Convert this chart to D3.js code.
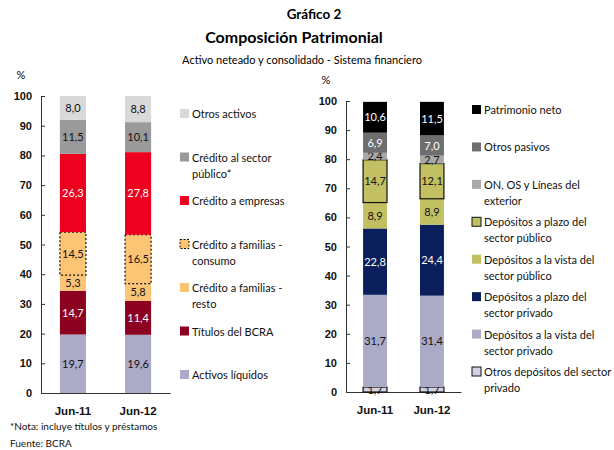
<html>
<head>
<meta charset="utf-8">
<style>
    body {
        margin: 0;
        background: #fff;
        font-family: 'Lato', 'Open Sans', sans-serif;
    }
    .tick text {
        font-size: 11px;
        font-weight: bold;
        fill: #111;
    }
    .axis .domain, .axis .tick line {
        stroke: #333;
    }
    .title {
        font-weight: bold;
        text-anchor: middle;
    }
    .subtitle {
        font-size: 11px;
        text-anchor: middle;
    }
    .leg {
        font-size: 11px;
        fill: #111;
    }
    .val {
        font-size: 11px;
        text-anchor: middle;
    }
    .note {
        font-size: 10px;
        fill: #111;
    }
</style>
<body>
<svg width="614" height="450"></svg>

<script src="https://d3js.org/d3.v7.min.js"></script>
<script>

    let categories = ["Jun-11", "Jun-12"]
    let yTicks = [0, 10, 20, 30, 40, 50, 60, 70, 80, 90, 100]

    // activo (bottom to top)
    let assetKeys = [
        "Activos líquidos",
        "Títulos del BCRA",
        "Crédito a familias - resto",
        "Crédito a familias - consumo",
        "Crédito a empresas",
        "Crédito al sector público*",
        "Otros activos"
    ]
    let activosLiquidos = [19.7, 19.6]
    let titulosBCRA = [14.7, 11.4]
    let familiasResto = [5.3, 5.8]
    let familiasConsumo = [14.5, 16.5]
    let creditoEmpresas = [26.3, 27.8]
    let sectorPublico = [11.5, 10.1]
    let otrosActivos = [8.0, 8.8]

    // pasivo + patrimonio (bottom to top)
    let liabKeys = [
        "Otros depósitos del sector privado",
        "Depósitos a la vista del sector privado",
        "Depósitos a plazo del sector privado",
        "Depósitos a la vista del sector público",
        "Depósitos a plazo del sector público",
        "ON, OS y Líneas del exterior",
        "Otros pasivos",
        "Patrimonio neto"
    ]
    let otrosDepPrivado = [1.7, 1.7]
    let vistaPrivado = [31.7, 31.4]
    let plazoPrivado = [22.8, 24.4]
    let vistaPublico = [8.9, 8.9]
    let plazoPublico = [14.7, 12.1]
    let onOsLineas = [2.4, 2.7]
    let otrosPasivos = [6.9, 7.0]
    let patrimonioNeto = [10.6, 11.5]

    let assetSeries = [activosLiquidos, titulosBCRA, familiasResto, familiasConsumo, creditoEmpresas, sectorPublico, otrosActivos]
    let liabSeries = [otrosDepPrivado, vistaPrivado, plazoPrivado, vistaPublico, plazoPublico, onOsLineas, otrosPasivos, patrimonioNeto]

    // styles per series
    let assetStyle = [
        {fill: "#ababc8", text: "#111", stroke: null},
        {fill: "#8c0020", text: "#fff", stroke: null},
        {fill: "#fcc475", text: "#111", stroke: null},
        {fill: "#fcc475", text: "#111", stroke: "dot"},
        {fill: "#ee0020", text: "#fff", stroke: null},
        {fill: "#9a9a9a", text: "#111", stroke: null},
        {fill: "#d9d9d9", text: "#111", stroke: null}
    ]
    let liabStyle = [
        {fill: "#d2d2e2", text: "#111", stroke: "solid"},
        {fill: "#ababc8", text: "#111", stroke: null},
        {fill: "#0b1f5c", text: "#fff", stroke: null},
        {fill: "#c2c062", text: "#111", stroke: null},
        {fill: "#c2c062", text: "#111", stroke: "solid"},
        {fill: "#a8a8a8", text: "#111", stroke: null},
        {fill: "#6e6e6e", text: "#fff", stroke: null},
        {fill: "#000000", text: "#fff", stroke: null}
    ]

    let svg = d3.select("svg")

    svg.append("text").attr("class", "title").attr("x", 314).attr("y", 19).style("font-size", "13.5px").text("Gráfico 2")
    svg.append("text").attr("class", "title").attr("x", 294).attr("y", 43).style("font-size", "16px").text("Composición Patrimonial")
    svg.append("text").attr("class", "subtitle").attr("x", 302).attr("y", 64).text("Activo neteado y consolidado - Sistema financiero")

    function fmt(v) {
        return d3.format(".1f")(v).replace(".", ",")
    }

    function drawPanel(opt) {
        let rows = categories.map((c, i) => {
            let r = {cat: c}
            opt.keys.forEach((k, j) => r[k] = opt.series[j][i])
            return r
        })
        let stacked = d3.stack().keys(opt.keys)(rows)

        let x = d3.scaleBand()
            .domain(categories)
            .range([opt.x0, opt.x1])
            .paddingInner(opt.padIn)
            .paddingOuter(opt.padOut)

        let y = d3.scaleLinear()
            .domain([0, 100])
            .range([opt.y0, opt.y1])

        let g = svg.append("g")

        g.append("g")
            .attr("class", "axis")
            .attr("transform", `translate(${opt.x0},0)`)
            .call(d3.axisLeft(y).tickValues(yTicks).tickSize(-4).tickSizeOuter(0).tickPadding(9))

        g.append("g")
            .attr("class", "axis xaxis")
            .attr("transform", `translate(0,${opt.y0})`)
            .call(d3.axisBottom(x).tickSize(0).tickSizeOuter(0).tickPadding(14))

        g.append("text")
            .attr("x", opt.x0 - 20)
            .attr("y", y(100) - 17)
            .attr("text-anchor", "middle")
            .style("font-size", "11px")
            .text("%")

        let layer = g.selectAll(".layer")
            .data(stacked)
            .join("g")
            .attr("class", "layer")

        layer.selectAll("rect")
            .data((d, i) => d.map(p => ({p: p, s: opt.style[i]})))
            .join("rect")
            .attr("x", d => x(d.p.data.cat))
            .attr("width", x.bandwidth())
            .attr("y", d => y(d.p[1]))
            .attr("height", d => y(d.p[0]) - y(d.p[1]))
            .attr("fill", d => d.s.fill)
            .attr("stroke", d => d.s.stroke ? "#111" : "none")
            .attr("stroke-width", d => d.s.stroke ? 1.2 : 0)
            .attr("stroke-dasharray", d => d.s.stroke == "dot" ? "2,2" : null)

        layer.selectAll("text")
            .data((d, i) => d.map(p => ({p: p, s: opt.style[i]})))
            .join("text")
            .attr("class", "val")
            .attr("x", d => x(d.p.data.cat) + x.bandwidth() / 2)
            .attr("y", d => (y(d.p[0]) + y(d.p[1])) / 2 + 4)
            .attr("fill", d => d.s.text)
            .text(d => fmt(d.p[1] - d.p[0]))

        // legend, top item first
        let legKeys = opt.keys.slice().reverse()
        let legStyle = opt.style.slice().reverse()
        let ly = d3.scalePoint().domain(legKeys).range([opt.legTop, opt.legBottom])

        let item = g.selectAll(".legitem")
            .data(legKeys)
            .join("g")
            .attr("class", "legitem")
            .attr("transform", d => `translate(${opt.legX},${ly(d)})`)

        item.append("rect")
            .attr("x", 0)
            .attr("y", -5)
            .attr("width", 9)
            .attr("height", 9)
            .attr("fill", (d, i) => legStyle[i].fill)
            .attr("stroke", (d, i) => legStyle[i].stroke ? "#111" : "none")
            .attr("stroke-dasharray", (d, i) => legStyle[i].stroke == "dot" ? "2,1.5" : null)

        item.append("text")
            .attr("class", "leg")
            .attr("x", 12)
            .attr("y", 4)
            .each(function (d, i) {
                let lines = opt.legLines[d] || [d]
                d3.select(this).selectAll("tspan")
                    .data(lines)
                    .join("tspan")
                    .attr("x", 12)
                    .attr("dy", (l, k) => k == 0 ? 0 : 16)
                    .text(l => l)
            })
    }

    drawPanel({
        keys: assetKeys,
        series: assetSeries,
        style: assetStyle,
        x0: 41, x1: 170, padIn: 0.6, padOut: 0.29,
        y0: 393, y1: 96,
        legX: 180, legTop: 114, legBottom: 375,
        legLines: {
            "Crédito al sector público*": ["Crédito al sector", "público*"],
            "Crédito a familias - consumo": ["Crédito a familias -", "consumo"],
            "Crédito a familias - resto": ["Crédito a familias -", "resto"]
        }
    })

    drawPanel({
        keys: liabKeys,
        series: liabSeries,
        style: liabStyle,
        x0: 346, x1: 461, padIn: 0.58, padOut: 0.3,
        y0: 392, y1: 101,
        legX: 472, legTop: 110, legBottom: 372,
        legLines: {
            "ON, OS y Líneas del exterior": ["ON, OS y Líneas del", "exterior"],
            "Depósitos a plazo del sector público": ["Depósitos a plazo del", "sector público"],
            "Depósitos a la vista del sector público": ["Depósitos a la vista del", "sector público"],
            "Depósitos a plazo del sector privado": ["Depósitos a plazo del", "sector privado"],
            "Depósitos a la vista del sector privado": ["Depósitos a la vista del", "sector privado"],
            "Otros depósitos del sector privado": ["Otros depósitos del sector", "privado"]
        }
    })

    svg.selectAll(".xaxis .tick text").style("font-size", "11.5px")

    svg.append("text").attr("class", "note").attr("x", 10).attr("y", 430).text("*Nota: incluye títulos y préstamos")
    svg.append("text").attr("class", "note").attr("x", 10).attr("y", 447).text("Fuente: BCRA")

</script>
</body>
</html>
